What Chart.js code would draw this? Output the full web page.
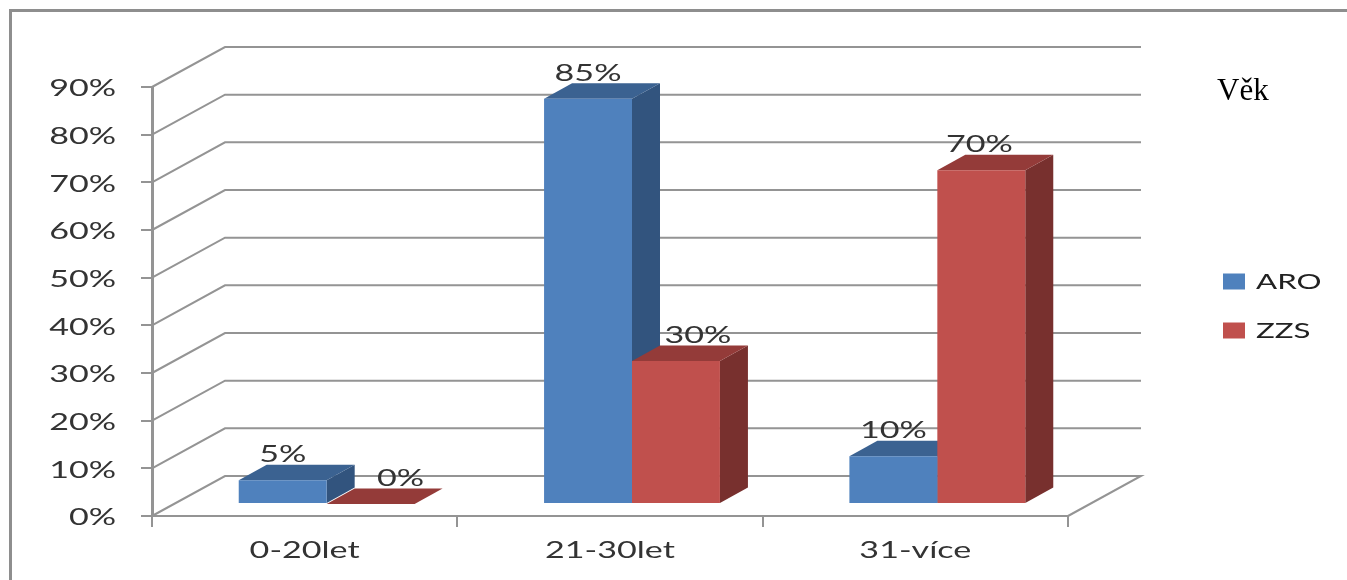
<!DOCTYPE html>
<html lang="cs">
<head>
<meta charset="utf-8">
<title>Věk</title>
<script src="https://cdn.jsdelivr.net/npm/chart.js@4"></script>
<style>
    html, body { margin: 0; background: #fff; overflow: hidden; }
    #frame { position: absolute; left: 9px; top: 9px; width: 1340px; height: 575px;
             border-left: 3px solid #8e8e8e; border-top: 3px solid #8e8e8e; }
    #chart { position: absolute; left: 0; top: 0; }
    #nadpis { position: absolute; left: 1217px; top: 72px; color: #000;
              font: 31px "Liberation Serif", serif; }
</style>
</head>
<body>
<div id="frame"></div>
<canvas id="chart" width="1347" height="580"></canvas>
<div id="nadpis">Věk</div>
<script>
/* ------------------------------------------------------------
   Data
------------------------------------------------------------ */
const categories = ["0-20let", "21-30let", "31-více"];
const seriesNames = ["ARO", "ZZS"];
const aroValues = [5, 85, 10];
const zzsValues = [0, 30, 70];
const axisMax = 90;
const axisStep = 10;

/* ------------------------------------------------------------
   Look of the pseudo 3D bars and walls
------------------------------------------------------------ */
const frontColors = ["#4f81bd", "#c0504d"];
const topColors = ["#3b6291", "#943b39"];
const sideColors = ["#32547e", "#78302e"];
const gridColor = "#949494";
const textColor = "#333";

const wallDepth = { x: 73, y: -40 };
const barDepth = { x: 28, y: -15.5 };
const barShift = { x: 22, y: -12 };

// a few value labels sit beside their bar, keyed "series,category"
const labelNudge = { "1,0": 30, "1,1": 22, "1,2": -2 };

/* ------------------------------------------------------------
   Wide lettering: every text is stretched sideways around its anchor
------------------------------------------------------------ */
const textStretch = 1.42;
const canvas = document.getElementById("chart");
const ctx2d = canvas.getContext("2d");
const plainFillText = ctx2d.fillText.bind(ctx2d);
ctx2d.fillText = function (text, x, y) {
    ctx2d.save();
    ctx2d.translate(x, y);
    ctx2d.scale(textStretch, 1);
    plainFillText(text, 0, 0);
    ctx2d.restore();
};

function polygon(ctx, color, points) {
    ctx.fillStyle = color;
    ctx.beginPath();
    points.forEach((p, i) => i ? ctx.lineTo(p[0], p[1]) : ctx.moveTo(p[0], p[1]));
    ctx.closePath();
    ctx.fill();
}

/* ------------------------------------------------------------
   Plugin: back wall, floor, top and side of the bars, value labels
------------------------------------------------------------ */
const pseudo3d = {
    id: "pseudo3d",

    // the legend goes to the free space right of the floor
    afterLayout(chart) {
        const legend = chart.legend;
        legend.left = 1196;
        legend.right = 1347;
        legend.top = 212;
        legend.bottom = 400;
    },

    beforeDatasetsDraw(chart) {
        const ctx = chart.ctx;
        const area = chart.chartArea;
        const yScale = chart.scales.y;

        // wall lines, one per tick
        ctx.save();
        ctx.strokeStyle = gridColor;
        ctx.lineWidth = 2;
        yScale.ticks.forEach(tick => {
            const y = yScale.getPixelForValue(tick.value);
            ctx.beginPath();
            ctx.moveTo(area.left, y);
            ctx.lineTo(area.left + wallDepth.x, y + wallDepth.y);
            ctx.lineTo(area.right + wallDepth.x, y + wallDepth.y);
            if (tick.value === 0) ctx.lineTo(area.right, y);
            ctx.stroke();
        });
        ctx.restore();

        // the bars stand a little inside the floor
        ctx.save();
        ctx.translate(barShift.x, barShift.y);

        // tops and sides first, the front faces come from Chart.js on top of them
        const count = categories.length;
        for (let c = 0; c < count; c++) {
            chart.data.datasets.forEach((ds, s) => {
                const bar = chart.getDatasetMeta(s).data[c];
                const l = bar.x - bar.width / 2;
                const r = bar.x + bar.width / 2;
                const dx = barDepth.x;
                const dy = barDepth.y;
                polygon(ctx, sideColors[s], [[r, bar.y], [r + dx, bar.y + dy], [r + dx, bar.base + dy], [r, bar.base]]);
                polygon(ctx, topColors[s], [[l, bar.y], [l + dx, bar.y + dy], [r + dx, bar.y + dy], [r, bar.y]]);
            });
        }
    },

    afterDatasetsDraw(chart) {
        const ctx = chart.ctx;
        ctx.restore();

        ctx.save();
        ctx.font = "24px Lato";
        ctx.fillStyle = textColor;
        ctx.textAlign = "center";
        ctx.textBaseline = "middle";
        chart.data.datasets.forEach((ds, s) => {
            chart.getDatasetMeta(s).data.forEach((bar, c) => {
                const nudge = labelNudge[s + "," + c] || 0;
                ctx.fillText(ds.data[c] + "%", bar.x + barShift.x + nudge, bar.y + barShift.y - 26);
            });
        });
        ctx.restore();
    }
};

/* ------------------------------------------------------------
   Chart
------------------------------------------------------------ */
new Chart(canvas, {
    type: "bar",
    data: {
        labels: categories,
        datasets: [
            { label: seriesNames[0], data: aroValues, backgroundColor: frontColors[0], borderWidth: 0 },
            { label: seriesNames[1], data: zzsValues, backgroundColor: frontColors[1], borderWidth: 0 }
        ]
    },
    options: {
        responsive: false,
        animation: false,
        layout: { padding: { top: 87, right: 279 } },
        datasets: { bar: { barPercentage: 1, categoryPercentage: 0.576 } },
        plugins: {
            tooltip: { enabled: false },
            legend: {
                position: "chartArea",
                labels: {
                    boxWidth: 22,
                    boxHeight: 16,
                    padding: 27,
                    color: "#222",
                    font: { family: "Lato", size: 22 }
                }
            }
        },
        scales: {
            x: {
                afterFit(scale) { scale.height = 64; },
                border: { color: gridColor, width: 2 },
                grid: { color: gridColor, lineWidth: 2, drawOnChartArea: false, tickLength: 11 },
                ticks: { color: textColor, padding: 9, maxRotation: 0, font: { family: "Lato", size: 24 } }
            },
            y: {
                min: 0,
                max: axisMax,
                afterFit(scale) { scale.width = 152; },
                border: { color: gridColor, width: 3 },
                grid: { color: gridColor, lineWidth: 2, drawOnChartArea: false, tickLength: 11 },
                ticks: {
                    stepSize: axisStep,
                    color: textColor,
                    padding: 25,
                    labelOffset: 1.5,
                    font: { family: "Lato", size: 24 },
                    callback: value => value + "%"
                }
            }
        }
    },
    plugins: [pseudo3d]
});
</script>
</body>
</html>
